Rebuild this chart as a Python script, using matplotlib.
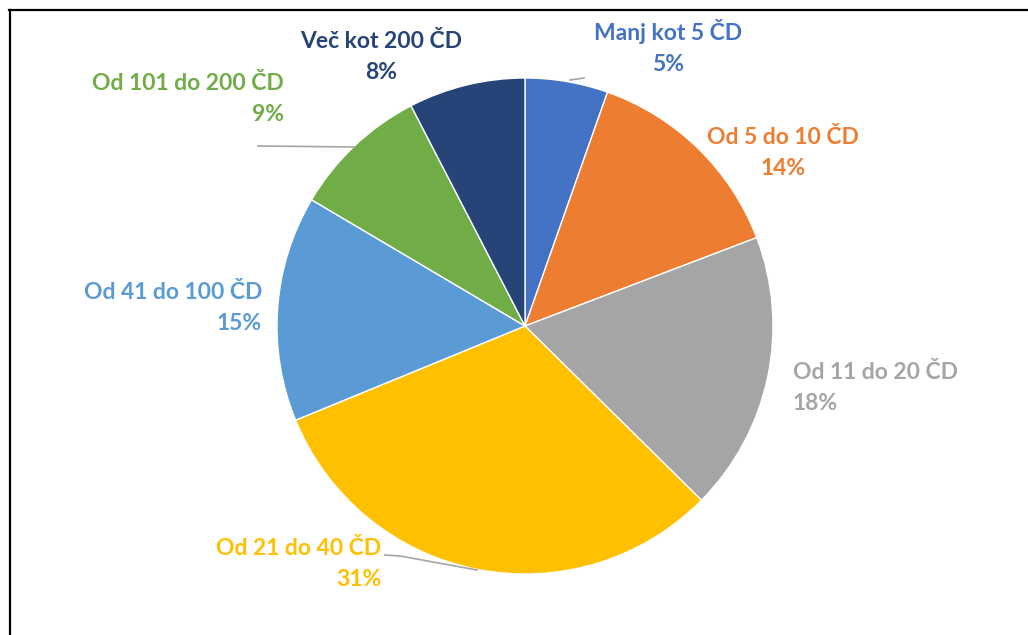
import matplotlib
matplotlib.use("Agg")
import matplotlib.pyplot as plt
from matplotlib.lines import Line2D

plt.rcParams['font.family'] = ['Lato', 'DejaVu Sans']

labels = ["Manj kot 5 ČD", "Od 5 do 10 ČD", "Od 11 do 20 ČD", "Od 21 do 40 ČD",
          "Od 41 do 100 ČD", "Od 101 do 200 ČD", "Več kot 200 ČD"]
shares = [5.4, 13.8, 18.2, 31.4, 14.7, 8.9, 7.6]
colors = ["#4472C4", "#ED7D31", "#A5A5A5", "#FFC000", "#5B9BD5", "#70AD47", "#264478"]

# label layout (pixel coords, y from top) and alignment
label_xy = [(668, 47), (783, 153), (793, 388), (381, 564), (262, 308), (284, 99), (381, 57)]
label_ha = ["center", "center", "left", "right", "right", "right", "center"]

W, H = 1028, 635
fig = plt.figure(figsize=(W / 100, H / 100), dpi=100)
ax = fig.add_axes([0, 0, 1, 1])

cx, cy, r = 525, H - 326, 248
ax.pie(shares, colors=colors, startangle=90, counterclock=False,
       center=(cx, cy), radius=r, frame=True,
       wedgeprops=dict(edgecolor="white", linewidth=1))
ax.set_xlim(0, W)
ax.set_ylim(0, H)
ax.set_aspect("equal")
ax.axis("off")

for lab, val, col, (x, y), ha in zip(labels, shares, colors, label_xy, label_ha):
    ax.text(x, H - y, f"{lab}\n{round(val):d}%", color=col, fontsize=16.5,
            fontweight="bold", ha=ha, va="center", linespacing=1.6,
            multialignment=ha)

# leader lines
lc = "#A5A5A5"
ax.add_line(Line2D([570, 584], [H - 80, H - 78], color=lc, lw=1.2))
ax.add_line(Line2D([258, 355], [H - 146, H - 147], color=lc, lw=1.2))
ax.add_line(Line2D([385, 400, 477], [H - 555, H - 556, H - 570], color=lc, lw=1.2))

# chart frame
ax.add_line(Line2D([9.5, 9.5], [0, H - 10], color="black", lw=1.6))
ax.add_line(Line2D([9, W], [H - 10, H - 10], color="black", lw=1.6))

fig.savefig("out.png", dpi=100)
